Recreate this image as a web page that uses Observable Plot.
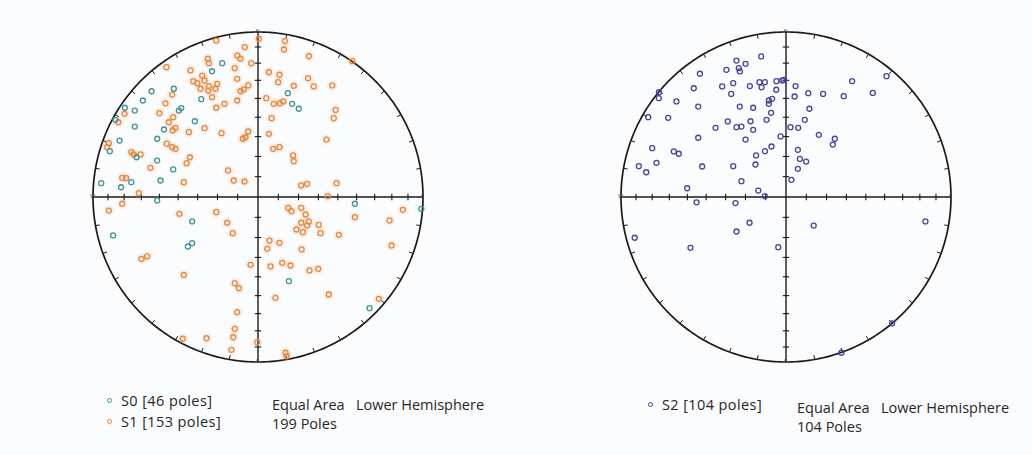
<!DOCTYPE html>
<html><head><meta charset="utf-8">
<script src="https://cdn.jsdelivr.net/npm/d3@7"></script>
<script src="https://cdn.jsdelivr.net/npm/@observablehq/plot@0.6"></script>
<style>
body{margin:0;background:#fbfcfe;}
#wrap{position:relative;width:1032px;height:455px;font-family:"Open Sans",sans-serif;color:#262626;overflow:hidden;}
.net{position:absolute;top:0;}
.lg{position:absolute;font-size:14.5px;white-space:pre;line-height:16px;}
.lg.key{letter-spacing:0.4px;}
.mk{display:inline-block;width:3px;height:3px;border:1.3px solid;border-radius:50%;margin-right:9px;vertical-align:3px;}
</style></head><body><div id="wrap"></div><script>
// Projected pole positions (equal-area, lower hemisphere), unit-radius net coordinates [east, north]
const s0Poles = [
[-0.217,0.811],[-0.278,0.762],[-0.344,0.593],[-0.645,0.641],[-0.510,0.656],[-0.698,0.585],[-0.807,0.541],
[-0.747,0.524],[-0.465,0.539],[-0.480,0.524],[-0.383,0.459],[-0.864,0.468],[-0.747,0.427],[-0.570,0.409],
[-0.839,0.342],[-0.611,0.353],[-0.898,0.278],[-0.736,0.241],[-0.611,0.221],[-0.514,0.167],[-0.768,0.090],
[-0.591,0.100],[-0.950,0.084],[-0.830,0.059],[0.181,0.629],[0.207,0.565],[0.247,0.535],[-0.611,-0.021],
[-0.399,-0.148],[-0.878,-0.233],[-0.425,-0.300],[-0.399,-0.280],[0.587,-0.041],[0.990,-0.072],[0.187,-0.510],
[0.676,-0.674]
];
const s1Poles = [
[-0.253,0.948],[-0.080,0.908],[-0.555,0.787],[-0.409,0.767],[-0.304,0.838],[-0.298,0.811],[-0.126,0.858],
[-0.106,0.838],[-0.141,0.781],[-0.041,0.811],[-0.393,0.702],[-0.368,0.690],[-0.338,0.736],[-0.324,0.706],
[-0.298,0.672],[-0.348,0.656],[-0.302,0.645],[-0.258,0.656],[-0.247,0.686],[-0.126,0.716],[-0.106,0.641],
[-0.086,0.652],[-0.059,0.676],[-0.278,0.605],[-0.203,0.565],[-0.126,0.585],[-0.253,0.541],[-0.520,0.621],
[-0.561,0.568],[-0.809,0.504],[-0.597,0.508],[-0.514,0.484],[-0.541,0.453],[-0.500,0.419],[-0.518,0.403],
[-0.847,0.453],[-0.419,0.393],[-0.324,0.417],[-0.221,0.387],[-0.059,0.397],[-0.076,0.362],[-0.092,0.353],
[-0.553,0.323],[-0.520,0.302],[-0.500,0.292],[-0.904,0.326],[-0.914,0.302],[-0.768,0.272],[-0.753,0.258],
[-0.712,0.258],[-0.413,0.241],[-0.433,0.205],[-0.652,0.177],[-0.181,0.161],[-0.823,0.116],[-0.799,0.114],
[-0.450,0.090],[-0.147,0.100],[-0.082,0.094],[-0.722,0.023],
[0.005,0.959],[0.163,0.945],[0.157,0.894],[0.308,0.853],[0.571,0.823],[0.066,0.756],[0.130,0.741],
[0.122,0.696],[0.304,0.720],[0.338,0.670],[0.217,0.674],[0.450,0.676],[0.050,0.599],[0.096,0.565],
[0.132,0.568],[0.153,0.579],[0.470,0.528],[0.459,0.478],[0.082,0.478],[0.066,0.383],[0.415,0.348],
[0.092,0.292],[0.130,0.302],[0.213,0.252],[0.217,0.217],[0.262,0.070],[0.298,0.080],[0.476,0.084],
[0.423,0.005],
[-0.823,-0.041],[-0.904,-0.082],[-0.476,-0.102],[-0.253,-0.092],[-0.187,-0.156],[-0.153,-0.219],
[-0.706,-0.375],[-0.672,-0.360],[-0.450,-0.472],[-0.045,-0.411],[-0.141,-0.522],[-0.116,-0.553],
[-0.126,-0.698],[-0.141,-0.799],[-0.150,-0.850],[-0.312,-0.856],[-0.456,-0.859],[-0.161,-0.926],
[0.878,-0.078],[0.183,-0.066],[0.203,-0.086],[0.262,-0.066],[0.288,-0.106],[0.262,-0.156],[0.308,-0.148],
[0.298,-0.173],[0.368,-0.169],[0.233,-0.197],[0.272,-0.213],[0.379,-0.219],[0.490,-0.229],[0.797,-0.142],
[0.587,-0.122],[0.070,-0.264],[0.130,-0.278],[0.056,-0.314],[0.264,-0.318],[0.809,-0.294],[0.147,-0.399],
[0.197,-0.415],[0.076,-0.421],[0.312,-0.445],[0.365,-0.435],[0.106,-0.611],[0.429,-0.591],[0.732,-0.617],
[-0.005,-0.880],[0.167,-0.944],[0.173,-0.965]
];
const s2Poles = [
[-0.150,0.852],[-0.300,0.827],[-0.245,0.807],[-0.286,0.781],[-0.280,0.761],[-0.361,0.771],[-0.522,0.747],
[-0.559,0.659],[-0.387,0.670],[-0.320,0.690],[-0.219,0.672],[-0.161,0.696],[-0.128,0.696],[-0.148,0.665],
[-0.058,0.702],[-0.023,0.706],[-0.059,0.650],[-0.664,0.579],[-0.771,0.599],[-0.532,0.548],[-0.332,0.625],
[-0.280,0.548],[-0.199,0.541],[-0.104,0.585],[-0.084,0.595],[-0.104,0.565],[-0.090,0.510],[-0.118,0.468],
[-0.835,0.484],[-0.714,0.480],[-0.427,0.419],[-0.353,0.458],[-0.300,0.423],[-0.270,0.427],[-0.215,0.459],
[-0.199,0.407],[-0.532,0.359],[-0.033,0.367],[-0.245,0.348],[-0.088,0.306],[-0.128,0.278],[-0.181,0.252],
[-0.811,0.296],[-0.680,0.276],[-0.650,0.262],[-0.785,0.207],[-0.892,0.187],[-0.847,0.150],[-0.508,0.185],
[-0.320,0.187],[-0.185,0.197],[-0.270,0.096],[-0.599,0.053],[-0.168,0.039],[-0.128,0.005],[-0.770,0.635],
[0.609,0.732],[0.401,0.702],[0.058,0.672],[0.052,0.609],[0.135,0.629],[0.225,0.625],[0.350,0.611],
[0.526,0.631],[0.142,0.535],[0.114,0.468],[0.027,0.423],[0.074,0.419],[0.199,0.377],[0.296,0.353],
[0.284,0.318],[0.072,0.286],[0.084,0.231],[0.122,0.215],[0.072,0.171],[0.033,0.104],[-0.013,0.710],
[-0.542,-0.032],[-0.306,-0.037],[-0.221,-0.156],[-0.300,-0.209],[-0.917,-0.247],[-0.579,-0.308],
[-0.047,-0.304],[0.168,-0.173],[0.845,-0.148],[0.643,-0.766],[0.336,-0.944]
];
const directionLabels = [{t:"N", x:0, y:1}, {t:"E", x:1, y:0}, {t:"S", x:0, y:-1}, {t:"W", x:-1, y:0}];
const plungeTicks = [10,20,30,40,50,60,70,80];
const azimuthTicks = [10,20,30,40,50,60,70,80,100,110,120,130,140,150,160,170,190,200,210,220,230,240,250,260,280,290,300,310,320,330,340,350];

const leftLegend = [{label:"S0 [46 poles]", color:"#3f9396"}, {label:"S1 [153 poles]", color:"#e5883f"}];
const rightLegend = [{label:"S2 [104 poles]", color:"#45459f"}];
const leftInfo = ["Equal Area   Lower Hemisphere", "199 Poles"];
const rightInfo = ["Equal Area   Lower Hemisphere", "104 Poles"];

const R = 165, W = 516, H = 380, CY = 196.5;
const rad = Math.PI/180;

function net(cx, layers) {
  const circle = d3.range(0, 361, 1).map(a => ({x: Math.sin(a*rad), y: Math.cos(a*rad)}));
  const rr = plungeTicks.map(p => Math.SQRT2*Math.sin((90-p)/2*rad));
  const h = 3.2/R;
  const axTicks = [];
  for (const r of rr) for (const s of [-1, 1]) {
    axTicks.push({x1:s*r, y1:-h, x2:s*r, y2:h});
    axTicks.push({x1:-h, y1:s*r, x2:h, y2:s*r});
  }
  const rim = azimuthTicks.map(a => ({x1:Math.sin(a*rad), y1:Math.cos(a*rad), x2:0.974*Math.sin(a*rad), y2:0.974*Math.cos(a*rad)}));
  const marks = [
    Plot.link([{x1:-1,y1:0,x2:1,y2:0},{x1:0,y1:-1,x2:0,y2:1}], {x1:"x1",y1:"y1",x2:"x2",y2:"y2", stroke:"#1a1a1a", strokeWidth:1.4}),
    Plot.link(axTicks, {x1:"x1",y1:"y1",x2:"x2",y2:"y2", stroke:"#1a1a1a", strokeWidth:1.1}),
    Plot.link(rim, {x1:"x1",y1:"y1",x2:"x2",y2:"y2", stroke:"#1a1a1a", strokeWidth:1}),
    Plot.line(circle, {x:"x", y:"y", stroke:"#1a1a1a", strokeWidth:1.7}),
    Plot.text(directionLabels, {x:"x", y:"y", text:"t", fontSize:5.5, fill:"#444",
      dx: d => d.t==="E" ? 6 : d.t==="W" ? -6 : 0, dy: d => d.t==="N" ? -7 : d.t==="S" ? 7 : 0})
  ];
  for (const L of layers) {
    if (L.halo) marks.push(Plot.dot(L.data, {x:d=>d[0], y:d=>d[1], r:5.5, fill:L.color, fillOpacity:0.10, stroke:"none"}));
  }
  for (const L of layers) {
    marks.push(Plot.dot(L.data, {x:d=>d[0], y:d=>d[1], r:2.5, stroke:L.color, strokeWidth:1.3, fill:"none"}));
  }
  return Plot.plot({
    width: W, height: H, margin: 0,
    x: {domain: [-cx/R, (W-cx)/R], axis: null},
    y: {domain: [-(H-CY)/R, CY/R], axis: null},
    style: {background: "transparent", overflow: "visible"},
    marks
  });
}

const wrap = document.getElementById("wrap");
const left = net(257.5, [{data:s1Poles, color:"#e5883f", halo:true}, {data:s0Poles, color:"#3f9396"}]);
left.classList.add("net"); left.style.left = "0px";
const right = net(785.5-516, [{data:s2Poles, color:"#45459f"}]);
right.classList.add("net"); right.style.left = "516px";
wrap.appendChild(left); wrap.appendChild(right);

function addText(txt, x, y) {
  const d = document.createElement("div"); d.className = "lg";
  d.style.left = x + "px"; d.style.top = y + "px";
  d.textContent = txt; wrap.appendChild(d); return d;
}
function addLegend(items, x, y0, step) {
  items.forEach((it, i) => {
    const d = document.createElement("div"); d.className = "lg key";
    d.style.left = x + "px"; d.style.top = (y0 + i*step) + "px";
    const m = document.createElement("span"); m.className = "mk"; m.style.borderColor = it.color;
    d.appendChild(m); d.appendChild(document.createTextNode(it.label));
    wrap.appendChild(d);
  });
}
addLegend(leftLegend, 107, 393, 21);
addText(leftInfo[0], 272, 397);
addText(leftInfo[1], 272, 416);
addLegend(rightLegend, 648, 397, 21);
addText(rightInfo[0], 797, 400);
addText(rightInfo[1], 797, 419);
</script></body></html>
